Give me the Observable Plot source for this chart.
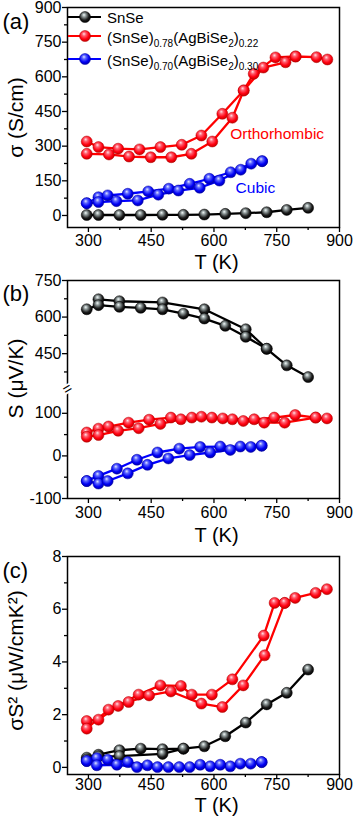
<!DOCTYPE html>
<html><head><meta charset="utf-8">
<script src="https://cdn.jsdelivr.net/npm/d3@7"></script>
<script src="https://cdn.jsdelivr.net/npm/@observablehq/plot@0.6"></script>
<style>
body{margin:0;background:#fff;}
#wrap{position:relative;width:354px;height:820px;overflow:hidden;font-family:'Liberation Sans',Arial,sans-serif;}
#chart svg{display:block;}
.lg{position:absolute;font-size:15px;line-height:1;white-space:nowrap;color:#000;}
.lg sub{font-size:10px;vertical-align:-4px;line-height:0;}
</style></head>
<body>
<div id="wrap">
<svg width="0" height="0" style="position:absolute">
<defs>
<radialGradient id="gk" cx="45%" cy="40%" r="60%" fx="40%" fy="30%">
<stop offset="0%" stop-color="#f4fbfb"/><stop offset="30%" stop-color="#8c9696"/><stop offset="70%" stop-color="#1c1c1c"/><stop offset="100%" stop-color="#000"/></radialGradient>
<radialGradient id="gr" cx="45%" cy="40%" r="60%" fx="40%" fy="30%">
<stop offset="0%" stop-color="#ffe0e6"/><stop offset="30%" stop-color="#ff5c6c"/><stop offset="70%" stop-color="#ff0010"/><stop offset="100%" stop-color="#c80000"/></radialGradient>
<radialGradient id="gb" cx="45%" cy="40%" r="60%" fx="40%" fy="30%">
<stop offset="0%" stop-color="#e0e4ff"/><stop offset="30%" stop-color="#5a64ff"/><stop offset="70%" stop-color="#0000f4"/><stop offset="100%" stop-color="#0000b0"/></radialGradient>
</defs></svg>
<div id="chart"></div>
</div>
<script>
// ---------- Data: (a) electrical conductivity σ (S/cm) ----------
const sigBlackT = [296,324,374,425,477,527,577,627,676,726,774,825];
const sigBlack  = [2,2,2,2,3,3,4,7,10,14,24,33];
const sigRedAT  = [296,324,371,422,472,523,570,620,671,695,747,795,845,871];
const sigRedA   = [320,296,289,286,296,306,346,440,541,613,684,688,685,675];
const sigRedBT  = [296,349,397,449,498,546,596,644,671,718,771,795];
const sigRedB   = [267,264,255,252,252,267,320,423,541,640,663,688];
const sigBlueAT = [296,324,346,394,443,492,542,589,640,689,715];
const sigBlueA  = [53,79,87,94,104,116,137,159,187,224,235];
const sigBlueBT = [296,324,367,418,467,515,566,613,664,715];
const sigBlueB  = [53,58,62,65,90,108,120,151,198,235];

// ---------- Data: (b) Seebeck coefficient S (μV/K) ----------
const sBlackAT = [324,374,477,577,676,726,774,825];
const sBlackA  = [673,665,660,632,550,470,402,354];
const sBlackBT = [296,324,374,425,477,527,577,627,676,726];
const sBlackB  = [632,649,642,638,632,614,594,564,519,470];
const sRedAT   = [296,324,348,396,445,497,547,595,644,696,744,794,843,870];
const sRedA    = [55,64,69,78,85,90,90,90,86,86,90,96,90,88];
const sRedBT   = [296,324,371,420,472,521,570,621,670,720,769,843];
const sRedB    = [45,49,59,65,75,86,92,88,82,78,78,90];
const sBlueAT  = [296,324,368,416,465,517,567,615,663,714];
const sBlueA   = [-59,-47,-30,-9,8,17,21,22,22,24];
const sBlueBT  = [296,324,346,394,441,491,542,591,639,688,714];
const sBlueB   = [-59,-65,-59,-41,-21,-6,2,8,14,21,24];

// ---------- Data: (c) power factor σS² (μW/cmK²) ----------
const pfBlackAT = [296,324,374,425,477,527,577,627,676,726,774,825];
const pfBlackA  = [0.37,0.48,0.65,0.71,0.69,0.71,0.80,1.18,1.70,2.39,2.83,3.71];
const pfBlackBT = [296,324,374,477,527];
const pfBlackB  = [0.30,0.42,0.43,0.51,0.71];
const pfRedAT   = [296,324,371,420,472,521,547,595,644,719,745,769,794,843,870];
const pfRedA    = [1.76,1.81,2.33,2.76,3.11,3.09,2.76,2.76,3.34,5.0,6.24,6.24,6.43,6.62,6.76];
const pfRedBT   = [296,348,396,445,497,570,620,670,721,769];
const pfRedB    = [1.47,2.19,2.48,2.73,2.88,2.42,2.29,3.11,4.25,6.24];
const pfBlueAT  = [296,320,346,394,441,491,542,591,639,688,714];
const pfBlueA   = [0.24,0.35,0.29,0.20,0.08,0.01,0.01,0.04,0.04,0.14,0.20];
const pfBlueBT  = [296,320,368,416,465,517,567,615,663,714];
const pfBlueB   = [0.24,0.08,0.10,0.01,0.01,0.01,0.10,0.10,0.14,0.20];

// ---------- Ticks / labels ----------
const xMajor = [300,450,600,750,900];
const xMinor = [375,525,675,825];
const yMajorA = [0,150,300,450,600,750,900];
const yMinorA = [75,225,375,525,675,825];
const yMajorB = [-100,0,100,450,600,750];
const yMinorB = [-50,50,375,525,675];
const yMajorC = [0,2,4,6,8];
const yMinorC = [1,3,5,7];
const seriesNames = ["SnSe","(SnSe)<sub>0.78</sub>(AgBiSe<sub>2</sub>)<sub>0.22</sub>","(SnSe)<sub>0.70</sub>(AgBiSe<sub>2</sub>)<sub>0.30</sub>"];
const phaseNotes = [{T:751, v:353, text:"Orthorhombic", color:"#ff0000"},{T:699, v:117, text:"Cubic", color:"#0000ff"}];

// broken axis for (b): lower segment up to BRK_LO, upper segment from BRK_HI
const BRK_LO = 157.6, BRK_HI = 306, BRK_K = 0.5725;
const fb = v => v <= BRK_LO ? v : BRK_LO + (v - BRK_HI) * BRK_K;

const FONT = "'Liberation Sans', Arial, sans-serif";
const mk = (T, V) => T.map((t, i) => ({T: t, v: V[i]}));
const STY = {black:{c:"#000000", g:"url(#gk)", e:"#000"}, red:{c:"#ff0000", g:"url(#gr)", e:"#b00000"}, blue:{c:"#0000ff", g:"url(#gb)", e:"#0000a0"}};

function makePanel(o) {
  const yf = o.yf || "v";
  const marks = [];
  for (const s of o.series) {
    const st = STY[s.key];
    for (const d of s.parts) marks.push(Plot.line(d, {x:"T", y:yf, stroke:st.c, strokeWidth:2.3}));
    for (const d of s.parts) marks.push(Plot.dot(d, {x:"T", y:yf, r:5.5, fill:st.g, stroke:st.e, strokeWidth:0.5}));
  }
  marks.push(Plot.frame({stroke:"#000", strokeWidth:1.5}));
  marks.push(Plot.axisX(xMajor, {anchor:"bottom", tickSize:5, tickPadding:o.xPad, tickFormat:d=>String(d), label:null, fontSize:16, strokeWidth:1.3}));
  marks.push(Plot.axisX(xMinor, {anchor:"bottom", tickSize:3, tickFormat:()=>"", label:null, strokeWidth:1.3}));
  marks.push(Plot.axisY(o.yMajor.map(o.yt || (d=>d)), {anchor:"left", tickSize:5, tickPadding:1, tickFormat:o.yFmt, label:null, fontSize:16, strokeWidth:1.3}));
  marks.push(Plot.axisY(o.yMinor.map(o.yt || (d=>d)), {anchor:"left", tickSize:3, tickFormat:()=>"", label:null, strokeWidth:1.3}));
  marks.push(Plot.text([o.yLabel], {frameAnchor:"left", dx:-51, dy:o.yLabelDy || 0, rotate:-90, fontSize:21, textAnchor:"middle", lineAnchor:"middle"}));
  marks.push(Plot.text(["T (K)"], {frameAnchor:"bottom", dx:13, dy:o.xLabelDy, fontSize:20, lineAnchor:"middle"}));
  marks.push(Plot.text([o.tag], {frameAnchor:"top-left", dx:-65, dy:o.tagDy, fontSize:22, textAnchor:"start", lineAnchor:"middle"}));
  if (o.extra) marks.push(...o.extra);
  return Plot.plot({
    width:354, height:o.height, marginLeft:67, marginRight:15, marginTop:o.mt, marginBottom:o.mb,
    x:{domain:[250,900]}, y:{domain:o.yDomain},
    style:{fontFamily:FONT, fontSize:"16px", background:"white", color:"#000", overflow:"visible"},
    marks
  });
}

const chart = document.getElementById("chart");

chart.appendChild(makePanel({
  height:272, mt:7, mb:45, yDomain:[-52,900], yMajor:yMajorA, yMinor:yMinorA, yFmt:d=>String(d),
  yLabel:"σ (S/cm)", xPad:2, xLabelDy:35, tag:"(a)", tagDy:14,
  series:[
    {key:"black", parts:[mk(sigBlackT, sigBlack)]},
    {key:"red", parts:[mk(sigRedAT, sigRedA), mk(sigRedBT, sigRedB)]},
    {key:"blue", parts:[mk(sigBlueAT, sigBlueA), mk(sigBlueBT, sigBlueB)]}
  ],
  extra:[Plot.text(phaseNotes, {x:"T", y:"v", text:"text", fill:"color", fontSize:15.5})]
}));

const bLabels = new Map(yMajorB.map(v => [fb(v), String(v)]));
chart.appendChild(makePanel({
  height:274, mt:8, mb:48, yDomain:[fb(-100), fb(750)], yMajor:yMajorB, yMinor:yMinorB, yt:fb,
  yFmt:d=>bLabels.get(d) ?? "", yf:d=>fb(d.v),
  yLabel:"S (μV/K)", yLabelDy:-11, xPad:3, xLabelDy:37, tag:"(b)", tagDy:13,
  series:[
    {key:"black", parts:[mk(sBlackAT, sBlackA), mk(sBlackBT, sBlackB)]},
    {key:"red", parts:[mk(sRedAT, sRedA), mk(sRedBT, sRedB)]},
    {key:"blue", parts:[mk(sBlueAT, sBlueA), mk(sBlueBT, sBlueB)]}
  ],
  extra:[Plot.text([BRK_LO], {y:d=>d, frameAnchor:"left", text:()=>"=", rotate:-30, fontSize:15, fill:"#000", stroke:"white", strokeWidth:4, paintOrder:"stroke", textAnchor:"middle", lineAnchor:"middle"})]
}));

chart.appendChild(makePanel({
  height:274, mt:10, mb:46, yDomain:[-0.27,8], yMajor:yMajorC, yMinor:yMinorC, yFmt:d=>String(d),
  yLabel:"σS² (μW/cmK²)", yLabelDy:-5, xPad:-1, xLabelDy:31, tag:"(c)", tagDy:14,
  series:[
    {key:"black", parts:[mk(pfBlackAT, pfBlackA), mk(pfBlackBT, pfBlackB)]},
    {key:"red", parts:[mk(pfRedAT, pfRedA), mk(pfRedBT, pfRedB)]},
    {key:"blue", parts:[mk(pfBlueAT, pfBlueA), mk(pfBlueBT, pfBlueB)]}
  ]
}));

// ---------- Legend (panel a, inside frame, top-left) ----------
const wrap = document.getElementById("wrap");
const legendRows = [{key:"black", cy:17.3, ty:17.5},{key:"red", cy:36, ty:38},{key:"blue", cy:59.3, ty:60.5}];
legendRows.forEach((r, i) => {
  const st = STY[r.key];
  const sw = document.createElementNS("http://www.w3.org/2000/svg","svg");
  sw.setAttribute("width", 36); sw.setAttribute("height", 14);
  sw.style.position = "absolute"; sw.style.left = "67px"; sw.style.top = (r.cy - 7) + "px";
  sw.innerHTML = `<line x1="1" x2="34" y1="7" y2="7" stroke="${st.c}" stroke-width="2.2"/><circle cx="18" cy="7" r="5.5" fill="${st.g}" stroke="${st.e}" stroke-width="0.5"/>`;
  wrap.appendChild(sw);
  const t = document.createElement("div");
  t.className = "lg";
  t.style.left = "107px"; t.style.top = (r.ty - 8) + "px";
  t.innerHTML = seriesNames[i];
  wrap.appendChild(t);
});
</script>
</body></html>
